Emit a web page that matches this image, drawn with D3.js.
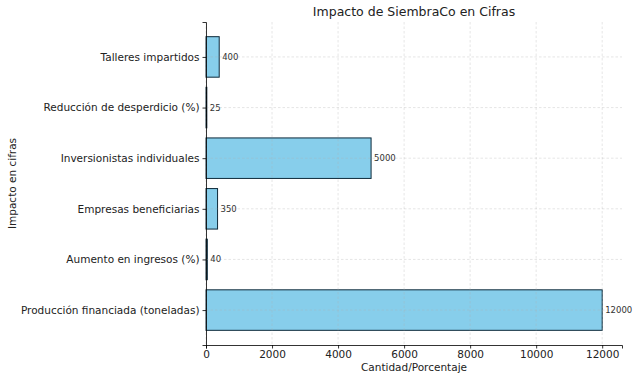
<!DOCTYPE html>
<html>
<head>
<meta charset="utf-8">
<script src="https://cdn.jsdelivr.net/npm/d3@7"></script>
<style>
  body { margin: 0; background: #fff; }
  text { font-family: "DejaVu Sans", sans-serif; fill: #222; }
</style>
</head>
<body>
<div id="chart"></div>
<script>
// bottom to top, as matplotlib barh draws them
const categories = [
  'Producción financiada (toneladas)',
  'Aumento en ingresos (%)',
  'Empresas beneficiarias',
  'Inversionistas individuales',
  'Reducción de desperdicio (%)',
  'Talleres impartidos'
];
const values = [12000, 40, 350, 5000, 25, 400];
const xTicks = [0, 2000, 4000, 6000, 8000, 10000, 12000];

const W = 640, H = 380;
const margin = { top: 22, right: 18, bottom: 35, left: 206 };
const width = W - margin.left - margin.right;
const height = H - margin.top - margin.bottom;

const svg = d3.select('#chart')
  .append('svg')
  .attr('width', W)
  .attr('height', H);

const g = svg.append('g')
  .attr('transform', 'translate(' + margin.left + ',' + margin.top + ')');

const xScaler = d3.scaleLinear()
  .domain([0, d3.max(values) * 1.05])
  .range([0, width]);

// index position, -0.69 .. 5.69 like matplotlib's margins
const n = categories.length;
const yPos = d3.scaleLinear()
  .domain([-0.4 - 0.05 * (n - 0.2), n - 0.6 + 0.05 * (n - 0.2)])
  .range([height, 0]);
const barH = yPos(0) - yPos(0.8);

// bars
g.selectAll('rect.bar')
  .data(values)
  .enter()
  .append('rect')
  .attr('class', 'bar')
  .attr('x', xScaler(0))
  .attr('y', (d, i) => yPos(i + 0.4))
  .attr('width', d => xScaler(d) - xScaler(0))
  .attr('height', barH)
  .attr('fill', '#87ceeb')
  .attr('stroke', '#0d2a3a')
  .attr('stroke-width', 1);

// grid on top of bars
const grid = g.append('g').attr('class', 'grid');
grid.selectAll('line.vx')
  .data(xTicks)
  .enter()
  .append('line')
  .attr('x1', d => xScaler(d)).attr('x2', d => xScaler(d))
  .attr('y1', 0).attr('y2', height)
  .attr('stroke', '#b0b0b0').attr('stroke-opacity', 0.45)
  .attr('stroke-width', 0.7).attr('stroke-dasharray', '2.5,2');
grid.selectAll('line.hy')
  .data(categories)
  .enter()
  .append('line')
  .attr('x1', 0).attr('x2', width)
  .attr('y1', (d, i) => yPos(i)).attr('y2', (d, i) => yPos(i))
  .attr('stroke', '#b0b0b0').attr('stroke-opacity', 0.45)
  .attr('stroke-width', 0.7).attr('stroke-dasharray', '2.5,2');

// value labels
g.selectAll('text.val')
  .data(values)
  .enter()
  .append('text')
  .attr('class', 'val')
  .attr('x', d => xScaler(d) + 3)
  .attr('y', (d, i) => yPos(i))
  .attr('dy', '0.35em')
  .style('font-size', '8.5px')
  .style('fill', '#333')
  .text(d => d);

// axes
const xAxis = g.append('g')
  .attr('transform', 'translate(0,' + height + ')')
  .call(d3.axisBottom(xScaler).tickValues(xTicks).tickFormat(d3.format('d')).tickSizeOuter(0).tickSize(3.5).tickPadding(2));
xAxis.selectAll('text').style('font-size', '10.5px');

const yAxis = g.append('g')
  .call(d3.axisLeft(yPos).tickValues(d3.range(n)).tickFormat(i => categories[i]).tickSizeOuter(0).tickSize(3.5).tickPadding(3));
yAxis.selectAll('text').style('font-size', '10.5px');

[xAxis, yAxis].forEach(a => {
  a.select('.domain').attr('stroke', '#000').attr('stroke-width', 0.8);
  a.selectAll('.tick line').attr('stroke', '#000').attr('stroke-width', 0.8);
  a.selectAll('text').style('fill', '#222');
});

// title and axis labels
svg.append('text')
  .attr('x', margin.left + width / 2)
  .attr('y', 16)
  .attr('text-anchor', 'middle')
  .style('font-size', '12.5px')
  .text('Impacto de SiembraCo en Cifras');

svg.append('text')
  .attr('x', margin.left + width / 2)
  .attr('y', 371)
  .attr('text-anchor', 'middle')
  .style('font-size', '10.5px')
  .text('Cantidad/Porcentaje');

svg.append('text')
  .attr('transform', 'translate(16,' + (margin.top + height / 2) + ') rotate(-90)')
  .attr('text-anchor', 'middle')
  .style('font-size', '10.5px')
  .text('Impacto en cifras');
</script>
</body>
</html>
